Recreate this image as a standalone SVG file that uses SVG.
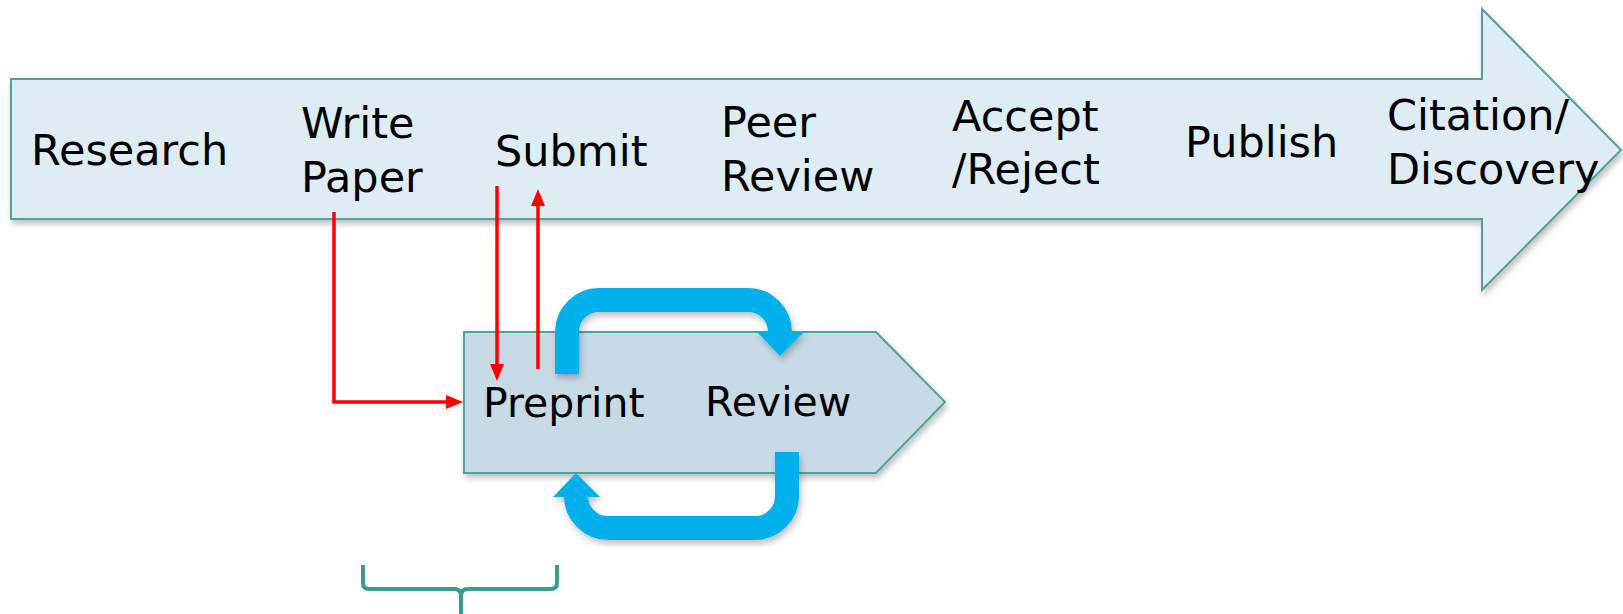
<svg xmlns="http://www.w3.org/2000/svg" width="1623" height="614" viewBox="0 0 1623 614">
<style>
.lbl{font-family:"DejaVu Sans","Liberation Sans",sans-serif;font-size:43px;fill:#000}
.lbl2{font-family:"DejaVu Sans","Liberation Sans",sans-serif;font-size:41px;fill:#000}
.red{fill:none;stroke:#FF0000;stroke-width:3.5}
.blue{fill:none;stroke:#00B0EA;stroke-width:24}
.bluehead{fill:#00B0EA}
</style>
<defs>
<filter id="sh" x="-10%" y="-10%" width="120%" height="130%">
<feDropShadow dx="2" dy="4" stdDeviation="3" flood-color="#000" flood-opacity="0.25"/>
</filter>
<marker id="rh" markerUnits="userSpaceOnUse" markerWidth="19" markerHeight="15" refX="1" refY="7" orient="auto">
<path d="M0,0 L17,7 L0,14 z" fill="#FF0000"/>
</marker>
</defs>
<rect width="1623" height="614" fill="#FFFFFF"/>
<g id="timeline">
<polygon points="11,79 1482,79 1482,9 1621,150 1482,290 1482,219 11,219" fill="#DDEDF3" stroke="#4FA39B" stroke-width="2" filter="url(#sh)"/>
<text class="lbl" x="31" y="165">Research</text>
<text class="lbl" x="301" y="138">Write<tspan x="301" y="192">Paper</tspan></text>
<text class="lbl" x="495" y="166">Submit</text>
<text class="lbl" x="721" y="137">Peer<tspan x="721" y="191">Review</tspan></text>
<text class="lbl" x="952" y="131">Accept<tspan x="952" y="184">/Reject</tspan></text>
<text class="lbl" x="1185" y="157">Publish</text>
<text class="lbl" x="1387" y="130">Citation/<tspan x="1387" y="184">Discovery</tspan></text>
</g>
<g id="preprint-review">
<polygon points="464,332 876,332 945,402 876,473 464,473" fill="#C8DAE6" stroke="#4FA39B" stroke-width="2" filter="url(#sh)"/>
<text class="lbl2" x="483" y="417">Preprint</text>
<text class="lbl2" x="705" y="416">Review</text>
</g>
<g id="connectors">
<g filter="url(#sh)">
<path class="blue" d="M567,374 V332 A32,32 0 0 1 599,300 H748 A32,32 0 0 1 780,332 V334"/>
<polygon class="bluehead" points="757,332 804,332 780,356"/>
<path class="blue" d="M787,452 V496 A32,32 0 0 1 755,528 H608 A32,32 0 0 1 576,496 V495"/>
<polygon class="bluehead" points="553,497 600,497 576,473"/>
</g>
<path class="red" d="M334,212 V402 H447" marker-end="url(#rh)"/>
<path class="red" d="M497,186 V365" marker-end="url(#rh)"/>
<path class="red" d="M538,369 V205" marker-end="url(#rh)"/>
</g>
<g id="bracket">
<path d="M363,565 V583 Q363,589 369,589 H454 Q461,589 461,596 V614 M461,596 Q461,589 468,589 H551 Q557,589 557,583 V565" fill="none" stroke="#3E9A8F" stroke-width="4"/>
</g>
</svg>
